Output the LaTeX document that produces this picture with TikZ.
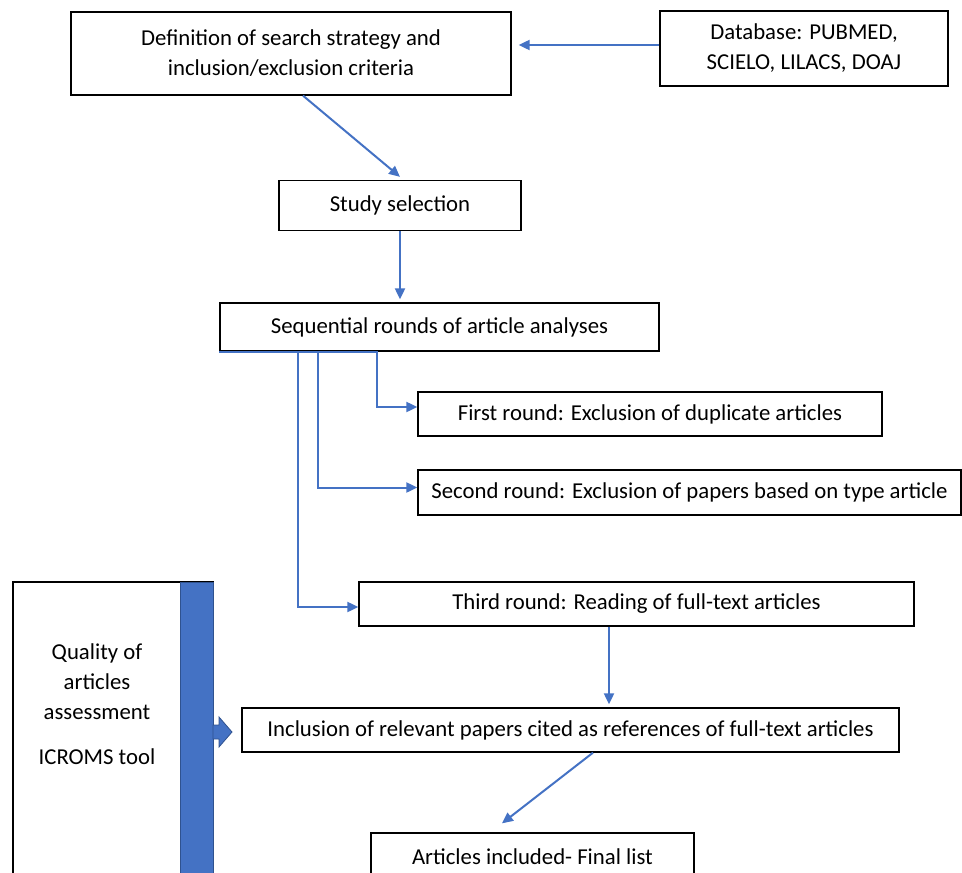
\documentclass[tikz,border=0pt]{standalone}
\usepackage{fontspec}
\setmainfont{Carlito}
\usepackage{tikz}
\usetikzlibrary{arrows.meta,positioning,calc}
\definecolor{flowblue}{RGB}{68,114,196}
\definecolor{barline}{RGB}{47,82,143}

\begin{document}
\begin{tikzpicture}[x=1pt, y=-1pt, line width=1.3pt,
  box node/.style={rectangle,draw,inner sep=0pt,align=center,font=\fontsize{22.75}{30}\selectfont},
  flow arrow/.style={draw=flowblue,line width=2pt,-{Triangle[length=11pt,width=10pt]}}]
\useasboundingbox (0,0) rectangle (962,873);
\clip (0,0) rectangle (962,873);
\begin{scope}[every node/.style={box node}]
\node (def) at (291,53.5) [minimum width=440pt,minimum height=83pt] {Definition of search strategy and\\inclusion/exclusion criteria};
\node (db) at (804,48.5) [minimum width=288pt,minimum height=75pt] {Database: PUBMED,\\SCIELO, LILACS, DOAJ};
\node (study) at (400,205.5) [minimum width=242pt,minimum height=50pt] {Study selection};
\node (seq) at (439.5,327) [minimum width=439pt,minimum height=48pt] {Sequential rounds of article analyses};
\node (first) at (650,414) [minimum width=464pt,minimum height=44pt] {First round: Exclusion of duplicate articles};
\node (second) at (689.5,492.5) [minimum width=543pt,minimum height=45pt] {Second round: Exclusion of papers based on type article};
\node (third) at (636.5,604) [minimum width=555pt,minimum height=44pt] {Third round: Reading of full-text articles};
\node (incl) at (570.5,730) [minimum width=657pt,minimum height=44pt] {Inclusion of relevant papers cited as references of full-text articles};
\node (final) at (532.5,857) [minimum width=323pt,minimum height=48pt] {Articles included- Final list};
\node (qual) at (113,742) [minimum width=200pt,minimum height=320pt] {};
\node[draw=none] (qualtext) at (97,704) {Quality of\\articles\\assessment\\[15pt]ICROMS tool};
\end{scope}
% blue bar and block arrow
\filldraw[fill=flowblue,draw=barline,line width=0.8pt] (180,582) rectangle (213,890);
\filldraw[fill=flowblue,draw=barline,line width=0.8pt] (213,725) -- (219,725) -- (219,717) -- (232,732) -- (219,747) -- (219,739) -- (213,739) -- cycle;
\begin{scope}
\draw[flow arrow,shorten >=7pt] ([yshift=3.5pt]db.west) -- ([yshift=8.5pt]def.east);
\draw[flow arrow] ([xshift=12pt]def.south) -- ([yshift=3pt]study.north);
\draw[flow arrow,shorten >=3pt] (study.south) -- (study.south |- seq.north);
\draw[flow arrow] (seq.south west) -| ([xshift=-40pt,yshift=7pt]first.west) -- ([yshift=7pt]first.west);
\draw[flow arrow] (seq.south west) -| ([xshift=-99pt,yshift=5pt]second.west) -- ([yshift=5pt]second.west);
\draw[flow arrow] (seq.south west) -| ([xshift=-60pt,yshift=-3pt]third.west) -- ([yshift=-3pt]third.west);
\draw[flow arrow,shorten >=3pt] ([xshift=-27.5pt]third.south) -- ([xshift=-27.5pt]third.south |- incl.north);
\draw[flow arrow] ([xshift=22.5pt]incl.south) -- ([xshift=-30.5pt,yshift=9pt]final.north);
\end{scope}
\end{tikzpicture}
\end{document}
